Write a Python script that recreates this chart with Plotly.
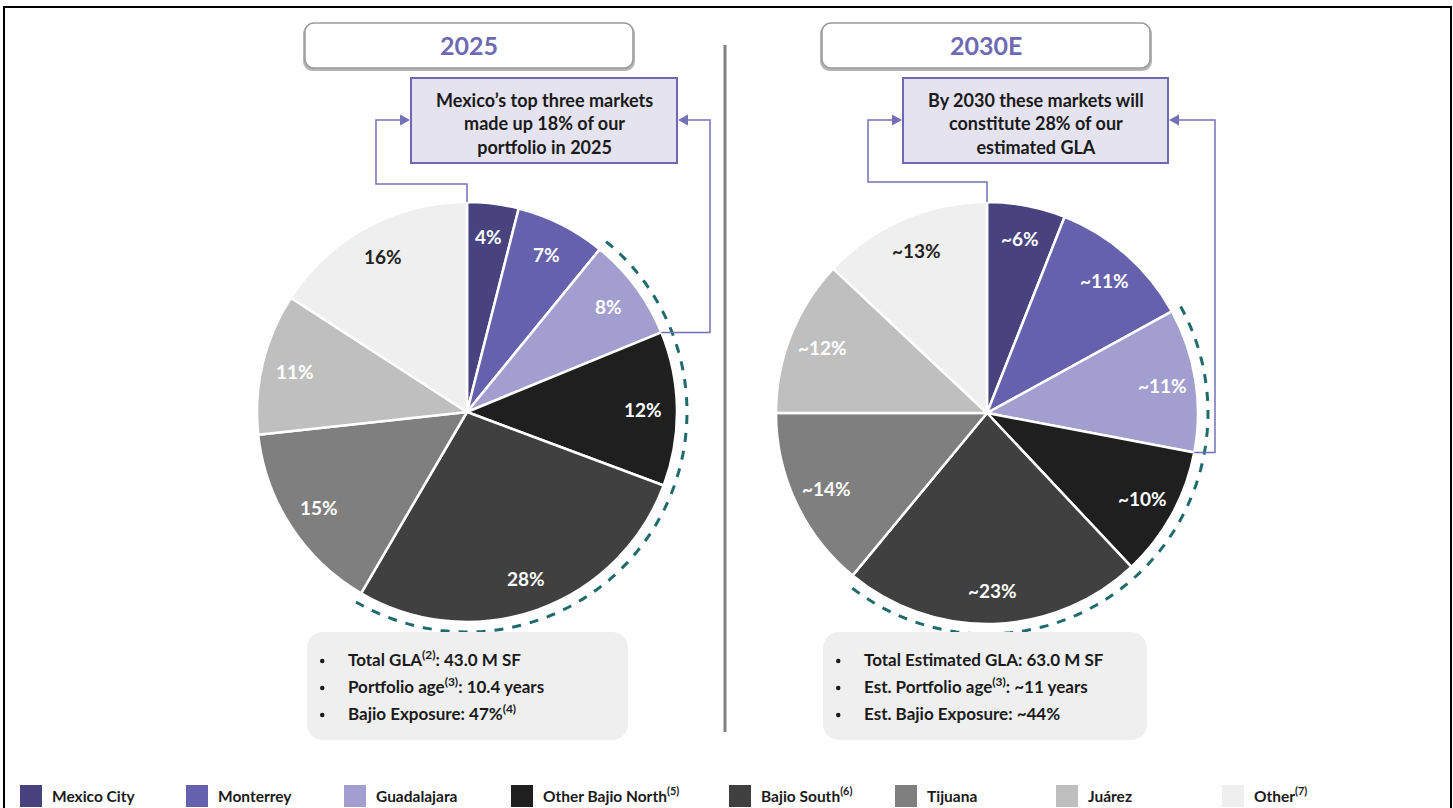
import math
import plotly.graph_objects as go

W, H = 1453, 808

categories = ["Mexico City", "Monterrey", "Guadalajara", "Other Bajio North<sup>(5)</sup>",
              "Bajio South<sup>(6)</sup>", "Tijuana", "Juárez", "Other<sup>(7)</sup>"]
values_2025 = [4, 7, 8, 12, 28, 15, 11, 16]
labels_2025 = ["4%", "7%", "8%", "12%", "28%", "15%", "11%", "16%"]
values_2030 = [6, 11, 11, 10, 23, 14, 12, 13]
labels_2030 = ["~6%", "~11%", "~11%", "~10%", "~23%", "~14%", "~12%", "~13%"]
colors = ["#48437f", "#6561ad", "#a29ecf", "#1f1f1f", "#404040", "#7f7f7f", "#bfbfbf", "#efefef"]
label_colors = ["white"] * 7 + ["#222222"]

titles = ["2025", "2030E"]
callouts = ["Mexico’s top three markets<br>made up 18% of our<br>portfolio in 2025",
            "By 2030 these markets will<br>constitute 28% of our<br>estimated GLA"]
info_2025 = ["Total GLA<sup>(2)</sup>: 43.0 M SF", "Portfolio age<sup>(3)</sup>: 10.4 years",
             "Bajio Exposure: 47%<sup>(4)</sup>"]
info_2030 = ["Total Estimated GLA: 63.0 M SF", "Est. Portfolio age<sup>(3)</sup>: ~11 years",
             "Est. Bajio Exposure: ~44%"]

FONT = "Lato"
PURPLE = "#6e69b3"
LINEC = "#7470b8"
TEAL = "#1f6b6b"


def px(x):
    return x / W


def py(y):
    return 1 - y / H


def path_from(points, close=False):
    s = "M " + " L ".join(f"{px(x):.5f},{py(y):.5f}" for x, y in points)
    return s + (" Z" if close else "")


def rrect(x0, y0, x1, y1, r):
    pts = []
    corners = [(x1 - r, y0 + r, -90), (x1 - r, y1 - r, 0), (x0 + r, y1 - r, 90), (x0 + r, y0 + r, 180)]
    for cx, cy, a0 in corners:
        for k in range(0, 10):
            a = math.radians(a0 + 90 * k / 9)
            pts.append((cx + r * math.cos(a), cy + r * math.sin(a)))
    return path_from(pts, close=True)


def text(x, y, t, size, color="#1a1a1a", xanchor="center", yanchor="middle"):
    return dict(x=px(x), y=py(y), xref="paper", yref="paper", text=t, showarrow=False,
                xanchor=xanchor, yanchor=yanchor,
                font=dict(family=FONT, size=size, color=color))


fig = go.Figure()
shapes = []
annotations = []

panels = [
    dict(vals=values_2025, labs=labels_2025, cx=467, cy=412, r=210, tbox=(305, 23, 633, 68),
         cbox=(411, 78, 677, 163), info=info_2025, ibox=(307, 632, 628, 740),
         lx=376, ltop=184, rx=710),
    dict(vals=values_2030, labs=labels_2030, cx=987, cy=413, r=211, tbox=(822, 23, 1150, 68),
         cbox=(903, 78, 1168, 163), info=info_2030, ibox=(823, 632, 1147, 740),
         lx=868, ltop=182, rx=1215),
]

for i, p in enumerate(panels):
    cx, cy, r = p["cx"], p["cy"], p["r"]
    vals = p["vals"]
    tot = sum(vals)
    fig.add_trace(go.Pie(
        values=vals, labels=categories, sort=False, direction="clockwise", rotation=0,
        marker=dict(colors=colors, line=dict(color="white", width=2.5)),
        textinfo="none", hoverinfo="label+value",
        domain=dict(x=[px(cx - r), px(cx + r)], y=[py(cy + r), py(cy - r)]),
        showlegend=False,
    ))
    # slice labels
    cum = 0
    bounds = []
    for v, lab, lc in zip(vals, p["labs"], label_colors):
        mid = (cum + v / 2) / tot * 2 * math.pi
        bounds.append(cum / tot * 2 * math.pi)
        cum += v
        rr = r * 0.84
        annotations.append(text(cx + rr * math.sin(mid), cy - rr * math.cos(mid), f"<b>{lab}</b>", 19, lc))
    bounds.append(2 * math.pi)
    # dashed arc over Guadalajara .. Bajio South
    a0, a1 = bounds[2], bounds[5]
    ra = r + 10
    n = 80
    arc = [(cx + ra * math.sin(a0 + (a1 - a0) * k / n), cy - ra * math.cos(a0 + (a1 - a0) * k / n))
           for k in range(n + 1)]
    shapes.append(dict(type="path", path=path_from(arc), xref="paper", yref="paper",
                       line=dict(color=TEAL, width=3, dash="dash")))
    # title box
    x0, y0, x1, y1 = p["tbox"]
    shapes.append(dict(type="path", path=rrect(x0 - 2, y0 + 1, x1 + 2, y1 + 3, 10), xref="paper", yref="paper",
                       fillcolor="#b5b5b5", line=dict(width=0)))
    shapes.append(dict(type="path", path=rrect(x0, y0, x1, y1, 9), xref="paper", yref="paper",
                       fillcolor="white", line=dict(color="#9a9a9a", width=1.5)))
    annotations.append(text((x0 + x1) / 2, (y0 + y1) / 2, f"<b>{titles[i]}</b>", 25, PURPLE))
    # callout box
    bx0, by0, bx1, by1 = p["cbox"]
    shapes.append(dict(type="rect", x0=px(bx0), x1=px(bx1), y0=py(by1), y1=py(by0), xref="paper", yref="paper",
                       fillcolor="#e4e3ef", line=dict(color=PURPLE, width=2)))
    annotations.append(text((bx0 + bx1) / 2, (by0 + by1) / 2 + 3, f"<b>{callouts[i]}</b>", 18))
    # connector lines
    ay = 120
    top_pt = (cx, cy - r)
    left_line = [top_pt, (cx, p["ltop"]), (p["lx"], p["ltop"]), (p["lx"], ay), (bx0 - 8, ay)]
    bnd = bounds[3]
    edge = (cx + r * math.sin(bnd), cy - r * math.cos(bnd))
    right_line = [edge, (p["rx"], edge[1]), (p["rx"], ay), (bx1 + 8, ay)]
    for line in (left_line, right_line):
        shapes.append(dict(type="path", path=path_from(line), xref="paper", yref="paper",
                           line=dict(color=LINEC, width=1.5)))
    shapes.append(dict(type="path", path=path_from([(bx0 - 1, ay), (bx0 - 11, ay - 5.5), (bx0 - 11, ay + 5.5)], True),
                       xref="paper", yref="paper", fillcolor=LINEC, line=dict(width=0)))
    shapes.append(dict(type="path", path=path_from([(bx1 + 1, ay), (bx1 + 11, ay - 5.5), (bx1 + 11, ay + 5.5)], True),
                       xref="paper", yref="paper", fillcolor=LINEC, line=dict(width=0)))
    # info box
    ix0, iy0, ix1, iy1 = p["ibox"]
    shapes.append(dict(type="path", path=rrect(ix0, iy0, ix1, iy1, 16), xref="paper", yref="paper",
                       fillcolor="#efefef", line=dict(width=0)))
    for j, t in enumerate(p["info"]):
        yy = iy0 + 29 + 27 * j
        shapes.append(dict(type="circle", x0=px(ix0 + 13), x1=px(ix0 + 17.5), y0=py(yy + 2.25), y1=py(yy - 2.25),
                           xref="paper", yref="paper", fillcolor="#1a1a1a", line=dict(width=0)))
        annotations.append(text(ix0 + 39, yy + 11, f"<b>{t}</b>", 17, xanchor="left", yanchor="bottom"))

# divider
shapes.append(dict(type="line", x0=px(725), x1=px(725), y0=py(45), y1=py(732), xref="paper", yref="paper",
                   line=dict(color="#808080", width=3)))
# frame
shapes.append(dict(type="path", path=path_from([(4, H + 5), (4, 7), (1451, 7), (1451, H + 5)]),
                   xref="paper", yref="paper", line=dict(color="black", width=2)))

# legend
legend_x = [20, 186, 344, 511, 729, 895, 1056, 1222]
for lx, cat, col in zip(legend_x, categories, colors):
    shapes.append(dict(type="rect", x0=px(lx), x1=px(lx + 22), y0=py(807), y1=py(785), xref="paper", yref="paper",
                       fillcolor=col, line=dict(width=0)))
    annotations.append(text(lx + 30, 807, f"<b>{cat}</b>", 15.5, xanchor="left", yanchor="bottom"))

fig.update_layout(width=W, height=H, margin=dict(l=0, r=0, t=0, b=0), paper_bgcolor="white",
                  plot_bgcolor="white", showlegend=False, shapes=shapes, annotations=annotations)
fig.write_html("out.html", config={"displayModeBar": False},
               post_script="document.body.style.margin='0';document.body.style.overflow='hidden';")
